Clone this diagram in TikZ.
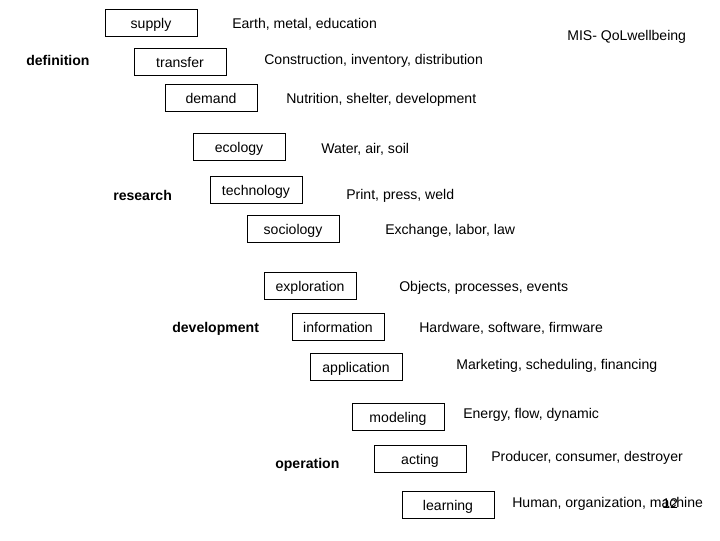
\documentclass[tikz,border=0pt]{standalone}
\usepackage{fontspec}
\setmainfont{Liberation Sans}
\tikzset{
  topicbox/.style={draw=black,line width=0.6pt,minimum width=2.3cm,minimum height=0.675cm,inner sep=0pt,text height=8.5pt,text depth=0.5pt,font=\fontsize{10}{12}\selectfont},
  itemtext/.style={anchor=west,inner sep=0pt,yshift=-0.035cm,font=\fontsize{10}{12}\selectfont},
  phaselabel/.style={anchor=west,inner sep=0pt,yshift=-0.035cm,font=\fontsize{10}{12}\selectfont\bfseries}
}

\begin{document}
\begin{tikzpicture}[x=0.025cm,y=-0.025cm]
    \useasboundingbox (0,0) rectangle (720,540);
    % phases
    \node[phaselabel] (definition) at (26,59) {definition};
    \node[phaselabel] (research) at (113,194) {research};
    \node[phaselabel] (development) at (172,327) {development};
    \node[phaselabel] (operation) at (275,463) {operation};
    % boxes
    \node[topicbox] (supply) at (151,23) {supply};
    \node[topicbox] (transfer) at (180,62) {transfer};
    \node[topicbox] (demand) at (211,98) {demand};
    \node[topicbox] (ecology) at (239,147) {ecology};
    \node[topicbox] (technology) at (256,190) {technology};
    \node[topicbox] (sociology) at (293,229) {sociology};
    \node[topicbox] (exploration) at (310,286) {exploration};
    \node[topicbox] (information) at (338,327) {information};
    \node[topicbox] (application) at (356,367) {application};
    \node[topicbox] (modeling) at (398,417) {modeling};
    \node[topicbox] (acting) at (420,459) {acting};
    \node[topicbox] (learning) at (448,505) {learning};
    % items
    \node[itemtext] (supplytxt) at (232,23) {Earth, metal, education};
    \node[itemtext] (transfertxt) at (264,59) {Construction, inventory, distribution};
    \node[itemtext] (demandtxt) at (286,98) {Nutrition, shelter, development};
    \node[itemtext] (ecologytxt) at (321,148) {Water, air, soil};
    \node[itemtext] (technologytxt) at (346,194) {Print, press, weld};
    \node[itemtext] (sociologytxt) at (385,229) {Exchange, labor, law};
    \node[itemtext] (explorationtxt) at (399,286) {Objects, processes, events};
    \node[itemtext] (informationtxt) at (419,327) {Hardware, software, firmware};
    \node[itemtext] (applicationtxt) at (456,364) {Marketing, scheduling, financing};
    \node[itemtext] (modelingtxt) at (463,413) {Energy, flow, dynamic};
    \node[itemtext] (actingtxt) at (491,456) {Producer, consumer, destroyer};
    \node[itemtext] (learningtxt) at (512,502) {Human, organization, machine};
    \node[itemtext] (title) at (567,35) {MIS- QoLwellbeing};
    \node[itemtext] (pagenum) at (662,502) {12};
\end{tikzpicture}
\end{document}
